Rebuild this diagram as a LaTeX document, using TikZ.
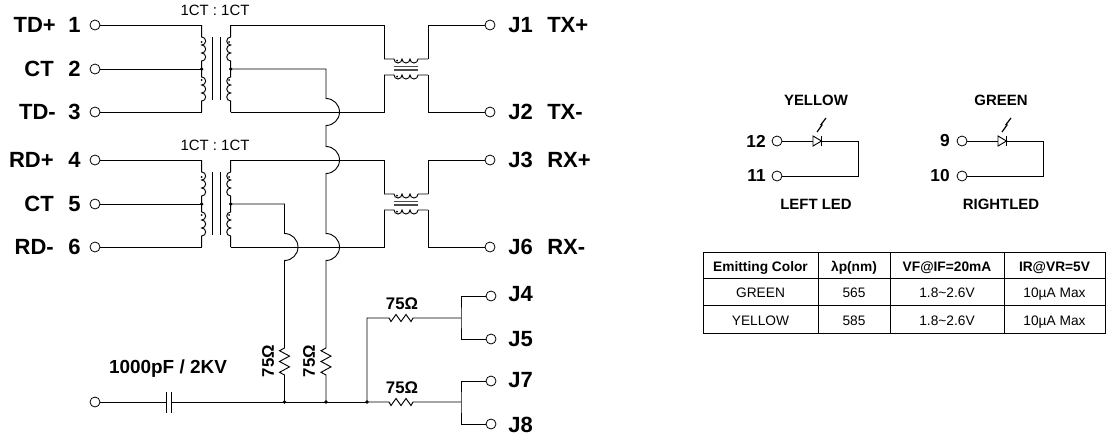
\documentclass[tikz,border=0pt]{standalone}
\usepackage{fontspec}
\setmainfont{Liberation Sans}
\newcommand{\coilr}{arc[start angle=-90,end angle=90,radius=4] arc[start angle=-90,end angle=90,radius=4] arc[start angle=-90,end angle=90,radius=4]}
\newcommand{\coill}{arc[start angle=-90,end angle=-270,radius=4] arc[start angle=-90,end angle=-270,radius=4] arc[start angle=-90,end angle=-270,radius=4]}
\newcommand{\coild}{arc[start angle=180,end angle=0,radius=4] arc[start angle=180,end angle=0,radius=4] arc[start angle=180,end angle=0,radius=4]}
\newcommand{\hop}{arc[start angle=-90,end angle=90,radius=13.5]}
\newcommand{\zigv}{-- ++(-5,2.7) -- ++(10,5.4) -- ++(-10,5.4) -- ++(10,5.4) -- ++(-10,5.4) -- ++(5,2.7)}
\newcommand{\zigh}{-- ++(2,3.5) -- ++(5,-7) -- ++(5,7) -- ++(5,-7) -- ++(5,7) -- ++(2,-3.5)}
\tikzset{
  wire/.style={line width=.7pt},
  term/.style={circle,draw,line width=.6pt,minimum size=7.5,inner sep=0},
  biglabel/.style={font=\bfseries\fontsize{16.5}{18}\selectfont,inner sep=0},
  midlabel/.style={font=\bfseries\fontsize{14.2}{16}\selectfont,inner sep=0},
  ohmlabel/.style={font=\bfseries\fontsize{12.6}{14}\selectfont,inner sep=0},
  ratiolabel/.style={font=\fontsize{11.2}{13}\selectfont,inner sep=0},
  ledlabel/.style={font=\bfseries\fontsize{11.2}{13}\selectfont,inner sep=0},
  pinlabel/.style={font=\bfseries\fontsize{13}{15}\selectfont,inner sep=0},
  cell/.style={draw,line width=.7pt,inner sep=0,outer sep=0,text height=9.5pt,text depth=0pt,font=\fontsize{10.3}{12}\selectfont},
  headcell/.style={cell,font=\bfseries\fontsize{10.3}{12}\selectfont},
  bigcore/.pic={
    \draw[wire] (-14.5,0) coordinate (-a) -- (-14.5,12) \coilr -- (-14.5,44) coordinate (-b)
      -- (-14.5,52) \coilr -- (-14.5,87) coordinate (-c);
    \draw[wire] (14.5,0) coordinate (-d) -- (14.5,12) \coill -- (14.5,44) coordinate (-e)
      -- (14.5,52) \coill -- (14.5,87) coordinate (-f);
    \draw[wire] (-4,12) -- (-4,75);
    \draw[wire] (4,12) -- (4,75);
    \fill (-14.5,17) circle (1) (-14.5,55) circle (1) (13,17) circle (1) (13,55) circle (1);
    \fill (-14.5,44) circle (1.8) (14.5,44) circle (1.8);
  },
  smallcore/.pic={
    \draw[wire] (-22,0) coordinate (-a) -- (-12,0) \coild -- (22,0) coordinate (-b);
    \draw[wire] (-22,16) coordinate (-c) -- (-12,16) \coild -- (22,16) coordinate (-d);
    \draw[line width=1pt,black!70] (-12,7.2) -- (12,7.2);
    \draw[line width=1pt,black!70] (-12,11) -- (12,11);
    \fill (-9,1.5) circle (1) (-9,17.5) circle (1);
  }
}
\begin{document}
\begin{tikzpicture}[x=.75pt,y=-.75pt]
  \useasboundingbox (0,0) rectangle (1110,436);

  \begin{scope}[every node/.style={term}]
    \node (1)  at (95,25)   {};
    \node (2)  at (95,69)   {};
    \node (3)  at (95,112)  {};
    \node (4)  at (95,160)  {};
    \node (5)  at (95,204)  {};
    \node (6)  at (95,247)  {};
    \node (j1) at (490,25)  {};
    \node (j2) at (490,112) {};
    \node (j3) at (490,160) {};
    \node (j6) at (490,247) {};
    \node (j4) at (491,296) {};
    \node (j5) at (491,339) {};
    \node (j7) at (491,381) {};
    \node (j8) at (491,424) {};
    \node (gnd) at (95,402) {};
    \node (12) at (777,141) {};
    \node (11) at (777,176) {};
    \node (9)  at (962,141) {};
    \node (10) at (962,176) {};
  \end{scope}

  \pic (tr1) at (216.2,25)  {bigcore};
  \pic (tr2) at (216.2,160) {bigcore};
  \pic (cm1) at (406,59)  {smallcore};
  \pic (cm2) at (406,194) {smallcore};

  \coordinate (d1) at (284.5,402);
  \coordinate (d2) at (326,402);
  \coordinate (d3) at (367,402);
  \coordinate (s1) at (461,318);
  \coordinate (s2) at (461,402);

  \begin{scope}[wire]
    \draw (1) -- (tr1-a);
    \draw (2) -- (tr1-b);
    \draw (3) -- (tr1-c);
    \draw (4) -- (tr2-a);
    \draw (5) -- (tr2-b);
    \draw (6) -- (tr2-c);
    \draw (tr1-d) -| (cm1-a);
    \draw (tr1-f) -| (cm1-c);
    \draw (tr2-d) -| (cm2-a);
    \draw (tr2-f) -| (cm2-c);
    \draw (cm1-b) |- (j1);
    \draw (cm1-d) |- (j2);
    \draw (cm2-b) |- (j3);
    \draw (cm2-d) |- (j6);
    % center taps hop over the pair lines
    \draw (tr1-e) -| (326,98.5) \hop -- (326,146.5) \hop -- (326,233.5) \hop
      -- (326,348) \zigv -- (d2);
    \draw (tr2-e) -| (284.5,233.5) \hop -- (284.5,348) \zigv -- (d1);
    % chassis side
    \draw (gnd) -- (166,402);
    \draw (171,402) -- (d3);
    \draw (166,392) -- (166,413);
    \draw (171,392) -- (171,413);
    \draw (d3) |- (389,318) \zigh -- (s1);
    \draw (d3) -- (389,402) \zigh -- (s2);
    \draw (j4) -| (s1) |- (j5);
    \draw (j7) -| (s2) |- (j8);
  \end{scope}

  \fill (d1) circle (1.8) (d2) circle (1.8) (d3) circle (1.8);

  \begin{scope}[every node/.style={biglabel}]
    \node[anchor=east] (tdp) at (56,25)   {TD+};
    \node[anchor=east] (ct1) at (54,69)   {CT};
    \node[anchor=east] (tdn) at (56,112)  {TD-};
    \node[anchor=east] (rdp) at (54,160)  {RD+};
    \node[anchor=east] (ct2) at (54,204)  {CT};
    \node[anchor=east] (rdn) at (54,247)  {RD-};
    \node[anchor=east] (n1)  at (81,25)   {1};
    \node[anchor=east] (n2)  at (81,69)   {2};
    \node[anchor=east] (n3)  at (81,112)  {3};
    \node[anchor=east] (n4)  at (81,160)  {4};
    \node[anchor=east] (n5)  at (81,204)  {5};
    \node[anchor=east] (n6)  at (81,247)  {6};
    \node[anchor=west] (lj1) at (508,25)  {J1};
    \node[anchor=west] (lj2) at (508,112) {J2};
    \node[anchor=west] (lj3) at (508,160) {J3};
    \node[anchor=west] (lj6) at (508,247) {J6};
    \node[anchor=west] (lj4) at (508,294) {J4};
    \node[anchor=west] (lj5) at (508,339) {J5};
    \node[anchor=west] (lj7) at (508,380) {J7};
    \node[anchor=west] (lj8) at (508,425) {J8};
    \node[anchor=west] (txp) at (547,25)  {TX+};
    \node[anchor=west] (txn) at (547,112) {TX-};
    \node[anchor=west] (rxp) at (547,160) {RX+};
    \node[anchor=west] (rxn) at (547,247) {RX-};
  \end{scope}

  \node[ratiolabel] (r1) at (215,10)  {1CT : 1CT};
  \node[ratiolabel] (r2) at (215,145) {1CT : 1CT};
  \node[midlabel] (cap) at (168,369) {1000pF / 2KV};
  \node[ohmlabel] (o1) at (402,304) {75Ω};
  \node[ohmlabel] (o2) at (402,388) {75Ω};
  \node[ohmlabel,rotate=90] (o3) at (268,361) {75Ω};
  \node[ohmlabel,rotate=90] (o4) at (309,361) {75Ω};

  % leds
  \begin{scope}[wire]
    \draw (12) -- (813,141);
    \draw (821.5,141) -- (858,141) -- (858,176) -- (11);
    \draw (813,136) -- (813,146) -- (821.5,141) -- cycle;
    \draw (821.5,136) -- (821.5,146);
    \draw[line width=.9pt] (817,132) -- (822,125) -- (821,124.5) -- (826,118);
    \draw (9) -- (998,141);
    \draw (1006.5,141) -- (1043,141) -- (1043,176) -- (10);
    \draw (998,136) -- (998,146) -- (1006.5,141) -- cycle;
    \draw (1006.5,136) -- (1006.5,146);
    \draw[line width=.9pt] (1002,132) -- (1007,125) -- (1006,124.5) -- (1011,118);
  \end{scope}

  \begin{scope}[every node/.style={ledlabel}]
    \node (c1) at (816,100)  {YELLOW};
    \node (c2) at (1001,100) {GREEN};
    \node (c3) at (816,204)  {LEFT LED};
    \node (c4) at (1001,204) {RIGHTLED};
  \end{scope}
  \begin{scope}[every node/.style={pinlabel,anchor=east}]
    \node (p12) at (766,141)  {12};
    \node (p11) at (766,176)  {11};
    \node (p9)  at (950,141)  {9};
    \node (p10) at (950,176)  {10};
  \end{scope}

  % table
  \begin{scope}[every node/.style={minimum height=19.5}]
    \node[headcell,minimum width=86.25] (h1) at (760.5,265) {Emitting Color};
    \node[headcell,minimum width=54] (h2) at (854,265)      {λp(nm)};
    \node[headcell,minimum width=85.5] (h3) at (947,265)    {VF@IF=20mA};
    \node[headcell,minimum width=75.75] (h4) at (1054.5,265) {IR@VR=5V};
  \end{scope}
  \begin{scope}[every node/.style={minimum height=20.25}]
    \node[cell,minimum width=86.25] (g1) at (760.5,291.5)   {GREEN};
    \node[cell,minimum width=54] (g2) at (854,291.5)        {565};
    \node[cell,minimum width=85.5] (g3) at (947,291.5)      {1.8\textasciitilde2.6V};
    \node[cell,minimum width=75.75] (g4) at (1054.5,291.5)  {10µA Max};
  \end{scope}
  \begin{scope}[every node/.style={minimum height=21}]
    \node[cell,minimum width=86.25] (y1) at (760.5,319)     {YELLOW};
    \node[cell,minimum width=54] (y2) at (854,319)          {585};
    \node[cell,minimum width=85.5] (y3) at (947,319)        {1.8\textasciitilde2.6V};
    \node[cell,minimum width=75.75] (y4) at (1054.5,319)    {10µA Max};
  \end{scope}

\end{tikzpicture}
\end{document}
